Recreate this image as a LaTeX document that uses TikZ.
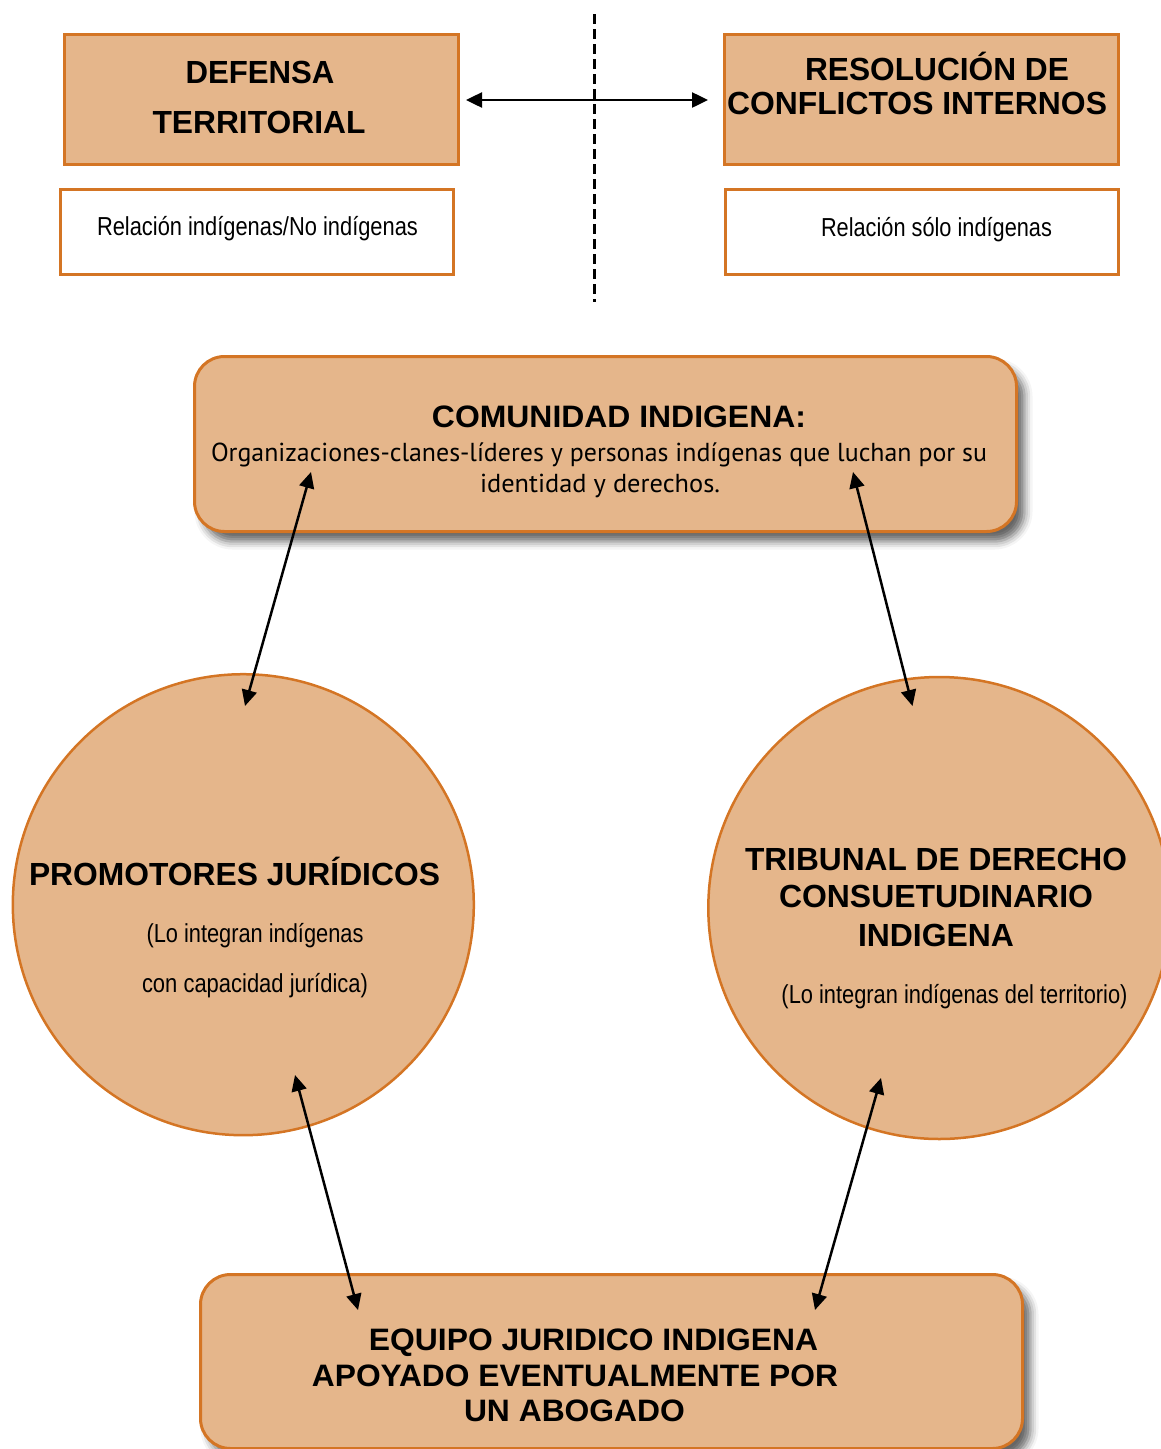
\documentclass[tikz,border=0pt]{standalone}
\usepackage{fontspec}
\usepackage{graphicx}
\setmainfont{Liberation Sans}
\newfontfamily\myrfont{PT Sans}
\usetikzlibrary{arrows.meta,shadows.blur}
\definecolor{bfill}{RGB}{229,182,139}
\definecolor{bline}{RGB}{212,117,36}
\newcommand\fw[2]{\resizebox{#1pt}{\height}{#2}}
\begin{document}
\begin{tikzpicture}[x=1pt,y=-1pt,
  hbox/.style={draw=bline,line width=3pt,fill=bfill,minimum width=394pt,minimum height=130pt,anchor=north west,inner sep=0pt},
  wbox/.style={draw=bline,line width=3pt,fill=white,minimum width=393pt,minimum height=85pt,anchor=north west,inner sep=0pt},
  rbox/.style={draw=bline,line width=3pt,fill=bfill,rounded corners=30pt,minimum width=822pt,anchor=north west,inner sep=0pt,
    blur shadow={shadow xshift=8pt,shadow yshift=-10pt,shadow blur radius=8pt,shadow opacity=60}},
  bubble/.style={circle,draw=bline,line width=2.5pt,fill=bfill,inner sep=0pt,minimum size=461pt},
  txt/.style={anchor=base,inner sep=0pt,text=black},
  hd/.style={txt,font=\fontsize{32}{36}\selectfont\bfseries},
  hdb/.style={txt,font=\fontsize{31}{35}\selectfont\bfseries},
  rg/.style={txt,font=\fontsize{26}{30}\selectfont},
  bd/.style={txt,font=\myrfont\fontsize{26}{30}\selectfont},
  link/.style={line width=2.5pt,{Triangle[length=16pt,width=15pt]}-{Triangle[length=16pt,width=15pt]}},
  sepline/.style={line width=3pt,dash pattern=on 10pt off 5pt}
]
\useasboundingbox (0,0) rectangle (1161,1449);

% top boxes
\node[hbox] (defensa) at (63,33) {};
\node[hbox] (resol) at (723,33) {};
\node[wbox] (reldef) at (59,188) {};
\node[wbox] (relres) at (724,188) {};

\node[hd] (tdef1) at (260,83) {\fw{149}{DEFENSA}};
\node[hd] (tdef2) at (259,133) {\fw{213}{TERRITORIAL}};
\node[hd] (tres1) at (937,80) {\fw{264}{RESOLUCIÓN DE}};
\node[hd] (tres2) at (917,114) {\fw{380}{CONFLICTOS INTERNOS}};
\node[rg] (trel1) at (257.5,235) {\fw{321}{Relación indígenas/No indígenas}};
\node[rg] (trel2) at (936.5,236.5) {\fw{231}{Relación sólo indígenas}};

% separator and horizontal arrow
\coordinate (septop) at (594,14);
\coordinate (sepbot) at (594,302);
\draw[sepline] (septop) -- (sepbot);
\coordinate (ha) at (466,100);
\coordinate (hb) at (708,100);
\draw[link] (ha) -- (hb);

% community box
\node[rbox,minimum height=175pt] (comunidad) at (193,355) {};
\node[hdb] (tcom) at (619,427) {\fw{374}{COMUNIDAD INDIGENA:}};
\node[bd] (tcom1) at (599,461) {\fw{776}{Organizaciones-clanes-líderes y personas indígenas que luchan por su}};
\node[bd] (tcom2) at (600,492) {\fw{240}{identidad y derechos.}};

% circles
\node[bubble] (promot) at (243.3,904.7) {};
\node[bubble,minimum size=462pt] (tribunal) at (939.3,908) {};
\node[hd] (tpro1) at (234.5,885) {\fw{411}{PROMOTORES JURÍDICOS}};
\node[rg] (tpro2) at (255,942.7) {\fw{217}{(Lo integran indígenas}};
\node[rg] (tpro3) at (255,992) {\fw{226}{con capacidad jurídica)}};
\node[hd] (ttri1) at (936,870) {\fw{382}{TRIBUNAL DE DERECHO}};
\node[hd] (ttri2) at (936,907.5) {\fw{314}{CONSUETUDINARIO}};
\node[hd] (ttri3) at (936,946.5) {\fw{156}{INDIGENA}};
\node[rg] (ttri4) at (954.5,1003.5) {\fw{346}{(Lo integran indígenas del territorio)}};

% bottom box
\node[rbox,minimum height=174pt] (equipo) at (199,1273) {};
\node[hdb] (teq1) at (593.5,1350) {\fw{449}{EQUIPO JURIDICO INDIGENA}};
\node[hdb] (teq2) at (575,1386) {\fw{526}{APOYADO EVENTUALMENTE POR}};
\node[hdb] (teq3) at (574.5,1421.7) {\fw{221}{UN ABOGADO}};

% connectors
\coordinate (c1) at (311,472);
\coordinate (p1) at (245,706);
\coordinate (c2) at (853,472);
\coordinate (t1) at (912.5,706);
\coordinate (p2) at (295,1075);
\coordinate (e1) at (358,1310);
\coordinate (t2) at (881,1078);
\coordinate (e2) at (815,1310);
\draw[link] (c1) -- (p1);
\draw[link] (c2) -- (t1);
\draw[link] (p2) -- (e1);
\draw[link] (t2) -- (e2);
\end{tikzpicture}
\end{document}
